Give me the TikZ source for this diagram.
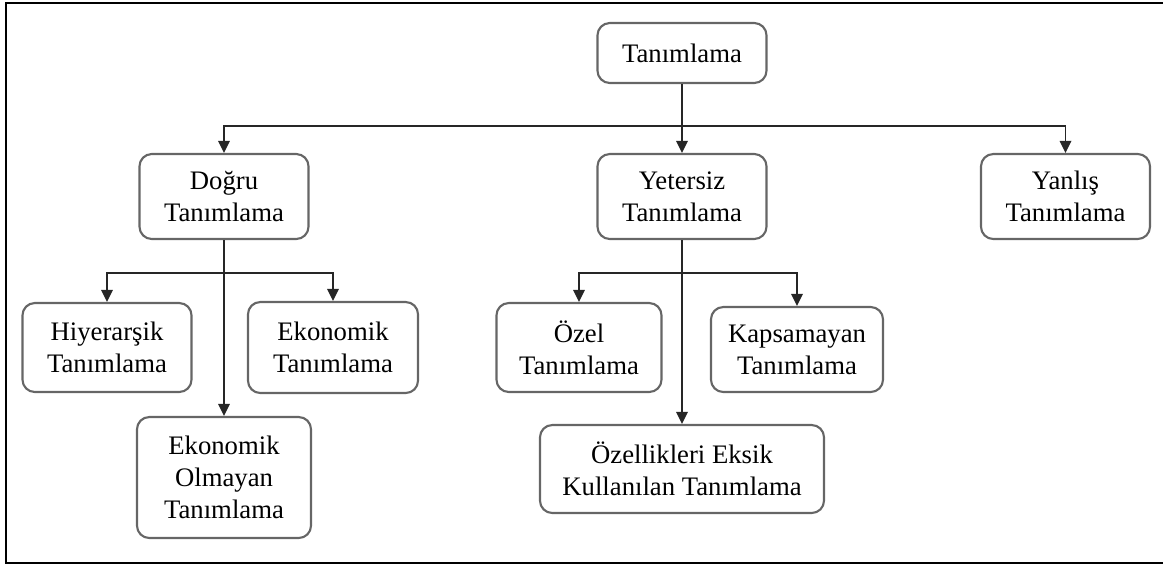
\documentclass[tikz,border=0pt]{standalone}
\usepackage{fontspec}
\setmainfont{Liberation Serif}
\usetikzlibrary{arrows.meta}

\begin{document}
\begin{tikzpicture}[x=1cm,y=-1cm,
   box/.style={draw=black!60, line width=0.6pt, rounded corners=3.5pt, align=center,
      inner sep=1pt, minimum width=1.69cm, minimum height=0.85cm,
      font=\fontsize{7.6}{9.1}\selectfont},
   link/.style={line width=0.5pt, black!85},
   >={Triangle[length=0.12cm,width=0.115cm]}]%
   \useasboundingbox (0,0) rectangle (11.63,5.65);
   \draw[line width=0.75pt] (11.63,0.03) -- (0.06,0.03) -- (0.06,5.63) -- (11.63,5.63);
   \node[box, minimum height=0.60cm] (tan) at (6.82,0.53) {Tanımlama};
   \node[box] (dog) at (2.24,1.965) {Doğru\\Tanımlama};
   \node[box] (yet) at (6.82,1.965) {Yetersiz\\Tanımlama};
   \node[box] (yan) at (10.655,1.965) {Yanlış\\Tanımlama};
   \node[box, minimum height=0.89cm] (hiy) at (1.07,3.475) {Hiyerarşik\\Tanımlama};
   \node[box, minimum width=1.70cm, minimum height=0.91cm] (eko) at (3.33,3.475) {Ekonomik\\Tanımlama};
   \node[box, minimum width=1.74cm, minimum height=1.21cm] (eol) at (2.24,4.775) {Ekonomik\\Olmayan\\Tanımlama};
   \node[box, minimum width=1.65cm, minimum height=0.89cm] (oze) at (5.79,3.475) {Özel\\Tanımlama};
   \node[box, minimum width=1.72cm] (kap) at (7.97,3.495) {Kapsamayan\\Tanımlama};
   \node[box, minimum width=2.84cm, minimum height=0.88cm] (ozk) at (6.82,4.69) {Özellikleri Eksik\\Kullanılan Tanımlama};
   \coordinate (bus) at (6.82,1.26);
   \coordinate (dbus) at (2.24,2.73);
   \coordinate (ybus) at (6.82,2.73);
   \draw[link, ->] (tan) -- (yet);
   \draw[link, ->] (bus) -| (dog);
   \draw[link, ->] (bus) -| (yan);
   \draw[link, ->] (dog) -- (eol);
   \draw[link, ->] (dbus) -| (hiy);
   \draw[link, ->] (dbus) -| (eko);
   \draw[link, ->] (yet) -- (ozk);
   \draw[link, ->] (ybus) -| (oze);
   \draw[link, ->] (ybus) -| (kap);
\end{tikzpicture}
\end{document}
